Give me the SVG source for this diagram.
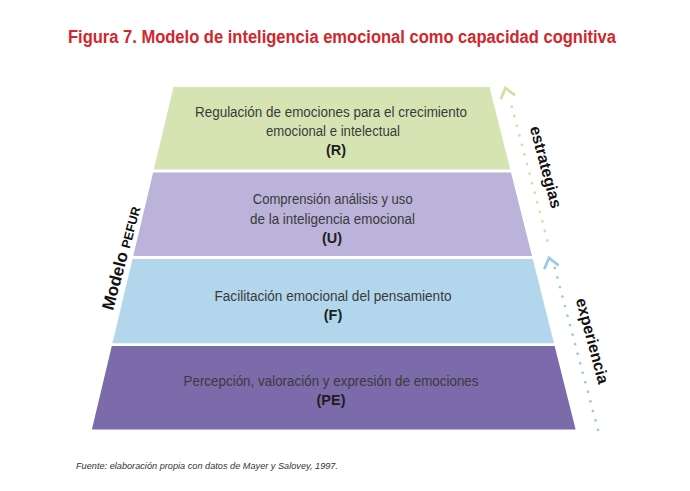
<svg xmlns="http://www.w3.org/2000/svg" width="690" height="491" viewBox="0 0 690 491">
  <style>
    .body { font-family: "Liberation Sans", Arial, sans-serif; font-size: 14px; fill: #3a3a3a; text-anchor: middle; }
    .lbl { font-family: "Liberation Sans", Arial, sans-serif; font-size: 14.5px; font-weight: bold; fill: #1e1e1e; text-anchor: middle; }
    .side { font-family: "Liberation Sans", Arial, sans-serif; font-size: 16px; font-weight: bold; fill: #111; text-anchor: middle; }
    .dots { fill: none; stroke-width: 2.8; stroke-linecap: round; }
    .chev { fill: none; stroke-width: 2.8; stroke-linecap: butt; stroke-linejoin: miter; }
    .green { stroke: #d0e1a6; }
    .blue { stroke: #9ccbe7; }
  </style>
  <defs>
    <path id="chevron" d="M -7.4 9.5 L 0 0 L 7.4 9.5"/>
  </defs>
  <rect width="690" height="491" fill="#ffffff"/>

  <text x="342" y="42.7" text-anchor="middle" textLength="548" lengthAdjust="spacingAndGlyphs" font-family="Liberation Sans, Arial, sans-serif" font-size="17.5" font-weight="bold" fill="#d2262c">Figura 7. Modelo de inteligencia emocional como capacidad cognitiva</text>

  <g id="node-R">
    <polygon points="173.5,87 489.5,87 510.25,169.5 153.84,169.5" fill="#d6e4b4"/>
    <text class="body" x="331" y="116.5" textLength="272" lengthAdjust="spacingAndGlyphs">Regulación de emociones para el crecimiento</text>
    <text class="body" x="333" y="136" textLength="134" lengthAdjust="spacingAndGlyphs">emocional e intelectual</text>
    <text class="lbl" x="336" y="155">(R)</text>
  </g>

  <g id="node-U">
    <polygon points="153.13,172.5 511,172.5 532,256 133.23,256" fill="#bbb3d9"/>
    <text class="body" x="332.7" y="204" textLength="160" lengthAdjust="spacingAndGlyphs">Comprensión análisis y uso</text>
    <text class="body" x="332.5" y="223.5" textLength="165" lengthAdjust="spacingAndGlyphs">de la inteligencia emocional</text>
    <text class="lbl" x="332" y="243">(U)</text>
  </g>

  <g id="node-F">
    <polygon points="132.51,259 532.76,259 553.96,343.3 112.42,343.3" fill="#b2d6eb"/>
    <text class="body" x="333" y="300.5" textLength="237" lengthAdjust="spacingAndGlyphs">Facilitación emocional del pensamiento</text>
    <text class="lbl" x="333" y="320">(F)</text>
  </g>

  <g id="node-PE">
    <polygon points="111.78,346 554.64,346 575.64,429.5 91.88,429.5" fill="#7b6bab"/>
    <text class="body" x="331" y="386" textLength="295" lengthAdjust="spacingAndGlyphs">Percepción, valoración y expresión de emociones</text>
    <text class="lbl" x="331" y="405">(PE)</text>
  </g>

  <g id="label-modelo">
    <text transform="translate(126.7,259.5) rotate(-75)" font-family="Liberation Sans, Arial, sans-serif" font-weight="bold" fill="#111" text-anchor="middle"><tspan font-size="17">Modelo </tspan><tspan font-size="12.5">PEFUR</tspan></text>
  </g>

  <g id="connectors">
    <g id="arrow-estrategias">
      <path class="dots green" d="M 511.7 106.7 L 550 250" stroke-dasharray="0 9.89"/>
      <use href="#chevron" class="chev green" transform="translate(505.5,88) rotate(-15)"/>
      <text class="side" transform="translate(540.6,168.5) rotate(75)">estrategias</text>
    </g>
    <g id="arrow-experiencia">
      <path class="dots blue" d="M 554.8 268 L 598 430" stroke-dasharray="0 9.86"/>
      <use href="#chevron" class="chev blue" transform="translate(549,258) rotate(-15)"/>
      <text class="side" transform="translate(587.1,342.3) rotate(75)">experiencia</text>
    </g>
  </g>

  <text x="76" y="469" textLength="262" lengthAdjust="spacingAndGlyphs" font-family="Liberation Sans, Arial, sans-serif" font-size="9" font-style="italic" fill="#333">Fuente: elaboración propia con datos de Mayer y Salovey, 1997.</text>
</svg>
